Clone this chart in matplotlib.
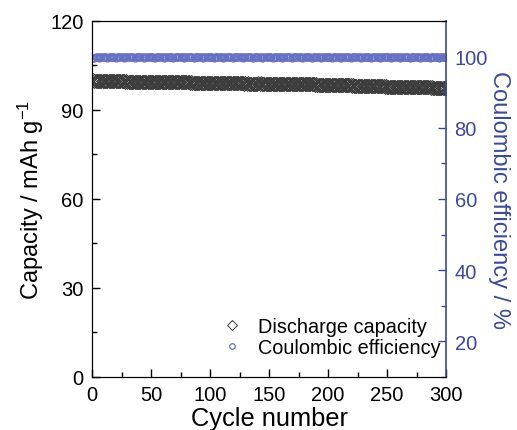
import numpy as np
import matplotlib
matplotlib.use('Agg')
import matplotlib.pyplot as plt
from matplotlib.ticker import MultipleLocator

plt.rcParams['font.family'] = ['Liberation Sans', 'DejaVu Sans']
plt.rcParams['mathtext.default'] = 'regular'

# cycle numbers 1..300
cycles = np.arange(1, 301)

# discharge capacity (mAh g-1), one value per cycle
capacity = [
    100.0, 99.9, 99.9, 99.9, 99.9, 99.9, 99.8, 99.9, 99.8, 99.8, 99.8, 99.8, 99.8, 99.8, 99.8, 99.8, 99.7, 99.8, 99.7, 99.7,
    99.7, 99.7, 99.7, 99.7, 99.7, 99.7, 99.7, 99.6, 99.7, 99.6, 99.6, 99.6, 99.6, 99.6, 99.6, 99.6, 99.6, 99.6, 99.6, 99.6,
    99.6, 99.5, 99.6, 99.5, 99.5, 99.5, 99.5, 99.5, 99.5, 99.5, 99.5, 99.5, 99.5, 99.4, 99.5, 99.4, 99.4, 99.4, 99.4, 99.4,
    99.4, 99.4, 99.4, 99.4, 99.4, 99.4, 99.4, 99.3, 99.4, 99.3, 99.3, 99.3, 99.3, 99.3, 99.3, 99.3, 99.3, 99.3, 99.3, 99.3,
    99.3, 99.3, 99.2, 99.3, 99.2, 99.2, 99.2, 99.2, 99.2, 99.2, 99.2, 99.2, 99.2, 99.2, 99.2, 99.1, 99.2, 99.1, 99.1, 99.1,
    99.1, 99.1, 99.1, 99.1, 99.1, 99.1, 99.1, 99.1, 99.1, 99.1, 99.1, 99.0, 99.1, 99.0, 99.1, 99.0, 99.0, 99.0, 99.0, 99.0,
    99.0, 99.0, 99.0, 99.0, 99.0, 99.0, 99.0, 99.0, 98.9, 99.0, 98.9, 99.0, 98.9, 98.9, 98.9, 98.9, 98.9, 98.9, 98.9, 98.9,
    99.0, 98.9, 99.0, 98.9, 98.9, 98.9, 98.9, 98.9, 98.9, 98.9, 98.9, 98.9, 98.8, 98.9, 98.8, 98.8, 98.8, 98.8, 98.8, 98.8,
    98.8, 98.8, 98.8, 98.8, 98.8, 98.7, 98.8, 98.7, 98.7, 98.7, 98.7, 98.7, 98.7, 98.7, 98.7, 98.7, 98.7, 98.6, 98.7, 98.6,
    98.6, 98.6, 98.6, 98.6, 98.6, 98.6, 98.6, 98.6, 98.5, 98.6, 98.5, 98.5, 98.5, 98.5, 98.5, 98.5, 98.5, 98.5, 98.5, 98.4,
    98.5, 98.4, 98.4, 98.4, 98.4, 98.4, 98.4, 98.4, 98.4, 98.3, 98.4, 98.3, 98.3, 98.3, 98.3, 98.3, 98.3, 98.3, 98.3, 98.2,
    98.3, 98.2, 98.2, 98.2, 98.2, 98.2, 98.2, 98.2, 98.1, 98.2, 98.1, 98.1, 98.1, 98.1, 98.1, 98.1, 98.1, 98.0, 98.1, 98.0,
    98.0, 98.0, 98.0, 98.0, 98.0, 98.0, 98.0, 97.9, 98.0, 97.9, 97.9, 97.9, 97.9, 97.9, 97.9, 97.9, 97.8, 97.9, 97.8, 97.8,
    97.8, 97.8, 97.8, 97.8, 97.8, 97.8, 97.7, 97.8, 97.7, 97.7, 97.7, 97.7, 97.7, 97.7, 97.7, 97.6, 97.7, 97.6, 97.6, 97.6,
    97.6, 97.6, 97.6, 97.6, 97.6, 97.6, 97.5, 97.6, 97.5, 97.5, 97.5, 97.5, 97.5, 97.5, 97.5, 97.5, 97.4, 97.5, 97.4, 97.5,
]

# coulombic efficiency (%), one value per cycle
efficiency = [
    99.6, 99.7, 99.8, 99.8, 99.8, 99.7, 99.8, 99.8, 99.9, 99.8, 99.8, 99.8, 99.7, 99.8, 99.8, 99.9, 99.8, 99.8, 99.8, 99.7,
    99.8, 99.8, 99.8, 99.9, 99.8, 99.8, 99.7, 99.8, 99.8, 99.8, 99.8, 99.9, 99.8, 99.8, 99.8, 99.7, 99.8, 99.8, 99.8, 99.8,
    99.9, 99.8, 99.8, 99.7, 99.8, 99.8, 99.8, 99.8, 99.9, 99.8, 99.8, 99.8, 99.7, 99.8, 99.8, 99.8, 99.9, 99.8, 99.8, 99.8,
    99.7, 99.8, 99.8, 99.8, 99.8, 99.9, 99.8, 99.8, 99.7, 99.8, 99.8, 99.8, 99.8, 99.9, 99.8, 99.8, 99.8, 99.7, 99.8, 99.8,
    99.8, 99.9, 99.8, 99.8, 99.8, 99.7, 99.8, 99.8, 99.8, 99.8, 99.9, 99.8, 99.8, 99.7, 99.8, 99.8, 99.8, 99.8, 99.9, 99.8,
    99.8, 99.8, 99.7, 99.8, 99.8, 99.8, 99.9, 99.8, 99.8, 99.8, 99.7, 99.8, 99.8, 99.8, 99.8, 99.9, 99.8, 99.8, 99.7, 99.8,
    99.8, 99.8, 99.8, 99.9, 99.8, 99.8, 99.8, 99.7, 99.8, 99.8, 99.8, 99.9, 99.8, 99.8, 99.8, 99.7, 99.8, 99.8, 99.8, 99.8,
    99.9, 99.8, 99.8, 99.7, 99.8, 99.8, 99.8, 99.8, 99.9, 99.8, 99.8, 99.8, 99.7, 99.8, 99.8, 99.8, 99.9, 99.8, 99.8, 99.8,
    99.7, 99.8, 99.8, 99.8, 99.8, 99.9, 99.8, 99.8, 99.7, 99.8, 99.8, 99.8, 99.8, 99.9, 99.8, 99.8, 99.8, 99.7, 99.8, 99.8,
    99.8, 99.9, 99.8, 99.8, 99.8, 99.7, 99.8, 99.8, 99.8, 99.8, 99.9, 99.8, 99.8, 99.7, 99.8, 99.8, 99.8, 99.8, 99.9, 99.8,
    99.8, 99.8, 99.7, 99.8, 99.8, 99.8, 99.9, 99.8, 99.8, 99.8, 99.7, 99.8, 99.8, 99.8, 99.8, 99.9, 99.8, 99.8, 99.7, 99.8,
    99.8, 99.8, 99.8, 99.9, 99.8, 99.8, 99.8, 99.7, 99.8, 99.8, 99.8, 99.9, 99.8, 99.8, 99.8, 99.7, 99.8, 99.8, 99.8, 99.8,
    99.9, 99.8, 99.8, 99.7, 99.8, 99.8, 99.8, 99.8, 99.9, 99.8, 99.8, 99.8, 99.7, 99.8, 99.8, 99.8, 99.9, 99.8, 99.8, 99.8,
    99.7, 99.8, 99.8, 99.8, 99.8, 99.9, 99.8, 99.8, 99.7, 99.8, 99.8, 99.8, 99.8, 99.9, 99.8, 99.8, 99.8, 99.7, 99.8, 99.8,
    99.8, 99.9, 99.8, 99.8, 99.8, 99.7, 99.8, 99.8, 99.8, 99.8, 99.9, 99.8, 99.8, 99.7, 99.8, 99.8, 99.8, 99.8, 99.9, 99.8,
]

blue = '#3b4a9c'
marker_blue = '#6670c4'

fig = plt.figure(figsize=(5.17, 4.31), dpi=100)
ax1 = fig.add_axes([0.178, 0.123, 0.685, 0.826])
ax2 = ax1.twinx()

# capacity on the left axis
l1, = ax1.plot(cycles, capacity, linestyle='none', marker='D', markersize=6.8,
               markerfacecolor='none', markeredgecolor='#3c3c3c', markeredgewidth=0.7,
               label='Discharge capacity')
ax1.set_xlim(0, 300)
ax1.set_ylim(0, 120)
ax1.xaxis.set_major_locator(MultipleLocator(50))
ax1.xaxis.set_minor_locator(MultipleLocator(25))
ax1.yaxis.set_major_locator(MultipleLocator(30))
ax1.yaxis.set_minor_locator(MultipleLocator(15))
ax1.tick_params(which='both', direction='in', top=False, right=False, labelsize=14.5, pad=6)
ax1.tick_params(which='major', length=6, width=1)
ax1.tick_params(which='minor', length=3.5, width=1)
ax1.set_xlabel('Cycle number', fontsize=18.3, labelpad=1)
ax1.set_ylabel('Capacity / mAh g$^{-1}$', fontsize=17, labelpad=3)
ax1.spines['right'].set_visible(False)

# coulombic efficiency on the right axis
l2, = ax2.plot(cycles, efficiency, linestyle='none', marker='o', markersize=5,
               markerfacecolor='none', markeredgecolor=marker_blue, markeredgewidth=0.9,
               label='Coulombic efficiency')
ax2.set_ylim(10, 110)
ax2.yaxis.set_major_locator(MultipleLocator(20))
ax2.yaxis.set_minor_locator(MultipleLocator(10))
ax2.tick_params(which='both', direction='in', colors=blue, labelsize=14.5, pad=6)
ax2.tick_params(which='major', length=6, width=1)
ax2.tick_params(which='minor', length=3.5, width=1)
ax2.spines['right'].set_color(blue)
ax2.spines['right'].set_linewidth(1.2)
ax2.set_ylabel('Coulombic efficiency / %', fontsize=17, color=blue, rotation=270, labelpad=16)

ax2.legend([l1, l2], ['Discharge capacity', 'Coulombic efficiency'], loc='lower right',
           bbox_to_anchor=(1.035, 0.005), frameon=False, fontsize=14.3, handletextpad=0.5,
           labelspacing=0.1, handlelength=1.6, markerscale=0.8)

fig.savefig('out.png', dpi=100)
